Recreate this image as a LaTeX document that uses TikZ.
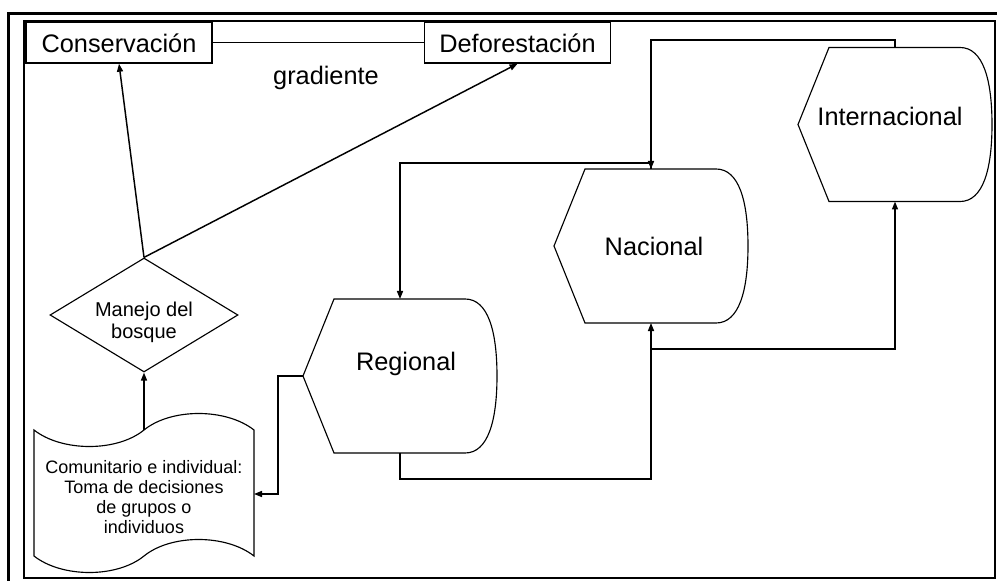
\documentclass[tikz,border=0pt]{standalone}
\usepackage{fontspec}
\setmainfont{Liberation Sans}
\usetikzlibrary{arrows.meta,shapes.geometric}
\begin{document}
\begin{tikzpicture}[x=0.75pt,y=-0.75pt,
  shapeline/.style={draw=black,line width=0.85pt},
  conn/.style={line width=1.1pt,-{Triangle[length=6pt,width=4.5pt]}},
  plainconn/.style={line width=1.1pt},
  bigfont/.style={font=\fontsize{19}{22}\selectfont},
  boxnode/.style={draw,line width=1.1pt,minimum width=139.5pt,minimum height=30.75pt,
    inner sep=0pt,bigfont,text height=15.75pt,text depth=0pt},
  pics/displayshape/.style={code={
    \draw[shapeline] (-97,0) coordinate (-w) -- (-66,-77) -- (65,-77)
      .. controls (88,-77) and (97,-45) .. (97,0) coordinate (-e)
      .. controls (97,45) and (88,77) .. (65,77) -- (-66,77) -- cycle;
    \coordinate (-n) at (0,-77);
    \coordinate (-s) at (0,77);
  }}
]
\useasboundingbox (0,0) rectangle (997,581);
\fill[white] (0,0) rectangle (997,581);

% frames
\draw[line width=2.25pt] (8.5,600) -- (8.5,14) -- (1010,14);
\draw[line width=1.5pt] (24,21) rectangle (995,578);

% top boxes
\node[boxnode] (cons) at (119,42.5) {Conservación};
\node[boxnode] (defo) at (517.5,42.5) {Deforestación};
\draw[plainconn] (cons.east) -- (defo.west);
\node[bigfont,anchor=base] (grad) at (326,85) {gradiente};

% decision diamond
\node[diamond,shapeline,minimum width=141pt,minimum height=85.5pt,aspect=1.65,inner sep=0pt] (man) at (144,315) {};
\node[font=\fontsize{15}{16.5}\selectfont,align=center] (mantext) at (144,322) {Manejo del\\bosque};

% document shape
\draw[shapeline] (34,430) .. controls (62,452) and (117,452) .. (144,430) coordinate (doctop)
  .. controls (171,408) and (226,408) .. (254,430) -- (254,556)
  .. controls (226,534) and (171,534) .. (144,556)
  .. controls (117,578) and (62,578) .. (34,556) -- cycle;
\coordinate (docr) at (254,494);
\node[font=\fontsize{13.5}{15.2}\selectfont,align=center] (doc) at (144,497)
  {Comunitario e individual:\\Toma de decisiones\\de grupos o\\individuos};

% display shapes
\pic (reg) at (400,376) {displayshape};
\pic (nac) at (651,246) {displayshape};
\pic (int) at (895,124.5) {displayshape};
\node[bigfont,anchor=base] (regt) at (406,370) {Regional};
\node[bigfont,anchor=base] (nact) at (654,256) {Nacional};
\node[bigfont,anchor=base] (intt) at (890,126) {Internacional};

% helper coordinates
\coordinate (nacup) at (651,163);
\coordinate (intup) at (895,40);
\coordinate (regdown) at (400,479);
\coordinate (nacjoin) at (651,349);
\coordinate (regleft) at (278,376);

% connectors
\draw[conn] (man.north) -- (cons.south);
\draw[conn] (man.north) -- (defo.south);
\draw[conn] (doctop) -- (man.south);
\draw[conn] (int-n) -- (intup) -| (nac-n);
\draw[conn] (nac-n) -- (nacup) -| (reg-n);
\draw[conn] (reg-s) -- (regdown) -| (nac-s);
\draw[conn] (nacjoin) -| (int-s);
\draw[conn] (reg-w) -- (regleft) |- (docr);
\end{tikzpicture}
\end{document}
